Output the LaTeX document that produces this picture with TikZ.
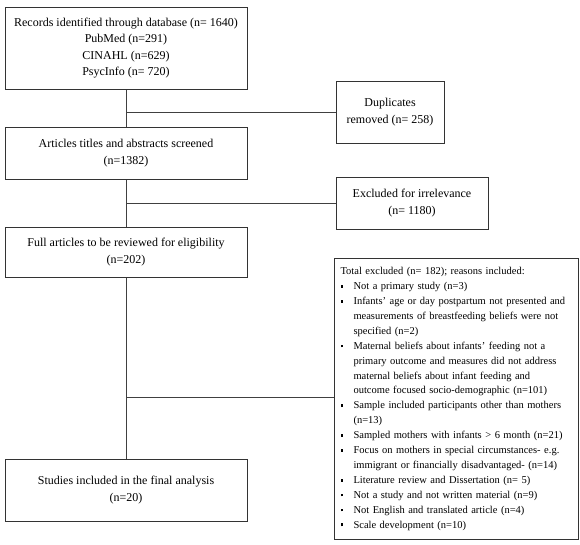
\documentclass[tikz,border=0pt]{standalone}
\usepackage{fontspec}
\setmainfont{Liberation Serif}
\newcommand{\sqb}{\makebox[13pt][l]{\rule[1.8pt]{2.8pt}{2.8pt}}}
\newcommand{\ind}{\hspace*{13pt}}
\begin{document}
\begin{tikzpicture}[x=1pt,y=-1pt,
  box/.style={draw=black!80,line width=1pt,rectangle,inner sep=0pt,align=center,font=\fontsize{12}{16.5}\selectfont},
  conn/.style={draw=black!75,line width=1pt}]
\useasboundingbox (0,0) rectangle (580,544);
\node[box,minimum width=242pt,minimum height=82pt] (rec) at (126,48) {Records identified through database (n= 1640)\\PubMed (n=291)\\CINAHL (n=629)\\PsycInfo (n= 720)};
\node[box,minimum width=242pt,minimum height=52pt] (art) at (126,153) {Articles titles and abstracts screened\\(n=1382)};
\node[box,minimum width=242pt,minimum height=50pt] (full) at (126,252) {Full articles to be reviewed for eligibility\\(n=202)};
\node[box,minimum width=242pt,minimum height=62pt] (stud) at (126,490) {Studies included in the final analysis\\(n=20)};
\node[box,minimum width=108pt,minimum height=62pt] (dup) at (390,112) {Duplicates\\removed (n= 258)};
\node[box,minimum width=152pt,minimum height=52pt] (exc) at (412,203) {Excluded for irrelevance\\(n= 1180)};
\node[box,minimum width=244pt,minimum height=275pt,align=left,anchor=north west,text width=232pt,inner xsep=6pt,inner ysep=9pt,font=\fontsize{10.5}{14.9}\selectfont] (tot) at (334,258) {Total excluded (n= 182); reasons included:\\
\sqb Not a primary study (n=3)\\
\sqb Infants' age or day postpartum not presented and\\
\ind measurements of breastfeeding beliefs were not\\
\ind specified (n=2)\\
\sqb Maternal beliefs about infants' feeding not a\\
\ind primary outcome and measures did not address\\
\ind maternal beliefs about infant feeding and\\
\ind outcome focused socio-demographic (n=101)\\
\sqb Sample included participants other than mothers\\
\ind (n=13)\\
\sqb Sampled mothers with infants > 6 month (n=21)\\
\sqb Focus on mothers in special circumstances- e.g.\\
\ind immigrant or financially disadvantaged- (n=14)\\
\sqb Literature review and Dissertation (n= 5)\\
\sqb Not a study and not written material (n=9)\\
\sqb Not English and translated article (n=4)\\
\sqb Scale development (n=10)};
\coordinate (b1) at (rec.south |- dup.west);
\coordinate (b2) at (art.south |- exc.west);
\coordinate (b3) at (126,397);
\draw[conn] (rec.south) -- (art.north);
\draw[conn] (art.south) -- (full.north);
\draw[conn] (full.south) -- (stud.north);
\draw[conn] (b1) -- (dup.west);
\draw[conn] (b2) -- (exc.west);
\draw[conn] (b3) -- (b3 -| tot.west);
\end{tikzpicture}
\end{document}
